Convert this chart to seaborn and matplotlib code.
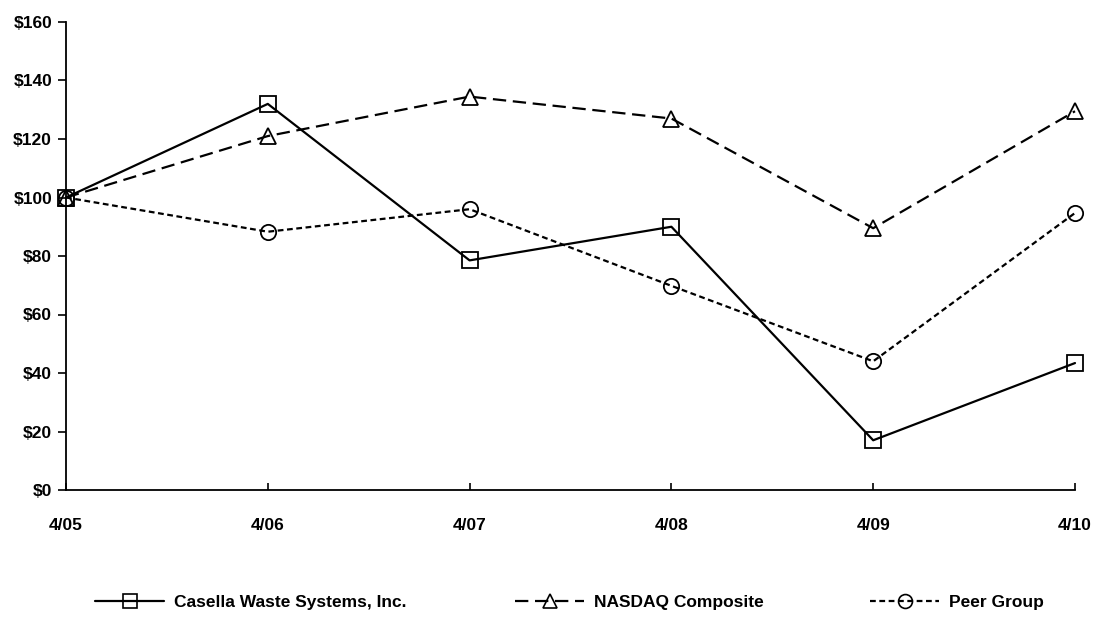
import pandas as pd
import matplotlib
matplotlib.use("Agg")
import matplotlib.pyplot as plt
import seaborn as sns
from matplotlib.lines import Line2D

# dados
periodos = ["4/05", "4/06", "4/07", "4/08", "4/09", "4/10"]
casella = [100, 132, 78.5, 90, 17, 43.4]
nasdaq = [100, 121, 134.5, 127, 89.5, 129.5]
peer = [100, 88.3, 96, 69.8, 44, 94.7]

nomes = ["Casella Waste Systems, Inc.", "NASDAQ Composite", "Peer Group"]

df = pd.DataFrame({"pos": list(range(len(periodos))) * 3,
                   "valor": casella + nasdaq + peer,
                   "serie": [nomes[0]] * 6 + [nomes[1]] * 6 + [nomes[2]] * 6})

sns.set_style("ticks")
plt.rcParams['font.family'] = ['Liberation Sans', 'DejaVu Sans']
plt.rcParams['font.weight'] = 'bold'
plt.rcParams['text.color'] = 'black'

fig = plt.figure(figsize=(10.94, 6.22), dpi=100)
ax = fig.add_axes([66 / 1094, 1 - 490 / 622, (1075 - 66) / 1094, (490 - 22) / 622])

marcadores = {nomes[0]: "s", nomes[1]: "^", nomes[2]: "o"}
tracos = {nomes[0]: "", nomes[1]: (6, 3), nomes[2]: (2.6, 1.6)}

sns.lineplot(data=df, x="pos", y="valor", style="serie", markers=marcadores,
             dashes=tracos, color="black", linewidth=1.6, markersize=11,
             markerfacecolor="none", markeredgecolor="black",
             markeredgewidth=1.3, legend=False, ax=ax, clip_on=False)

ax.set_xlim(0, 5)
ax.set_ylim(0, 160)
ax.set_xticks(range(len(periodos)))
ax.set_xticklabels(periodos, fontweight="bold", fontsize=12.5, color="black")
ax.set_yticks(range(0, 161, 20))
ax.set_yticklabels([f"${v}" for v in range(0, 161, 20)], fontweight="bold",
                   fontsize=12.5, color="black")
ax.set_xlabel("")
ax.set_ylabel("")
for s in ["top", "right"]:
    ax.spines[s].set_visible(False)
for s in ["left", "bottom"]:
    ax.spines[s].set_linewidth(1.3)
    ax.spines[s].set_color("black")
ax.tick_params(axis="y", direction="out", length=6, width=1.2, pad=4, colors="black")
ax.tick_params(axis="x", direction="in", length=5, width=1.2, pad=20, colors="black")

# legenda em três blocos
posicoes = [95, 515, 870]
for nome, xpix in zip(nomes, posicoes):
    h = Line2D([], [], color="black", linewidth=1.6, marker=marcadores[nome],
               markersize=10, markerfacecolor="none", markeredgecolor="black",
               markeredgewidth=1.2,
               linestyle="-" if tracos[nome] == "" else (0, tracos[nome]))
    fig.legend([h], [nome], loc="center left",
               bbox_to_anchor=(xpix / 1094, 1 - 602 / 622), frameon=False,
               handlelength=4.0, handletextpad=0.55, borderaxespad=0,
               borderpad=0, labelcolor="black",
               prop={"size": 12.5, "weight": "bold"})

plt.savefig("out.png", dpi=100)
